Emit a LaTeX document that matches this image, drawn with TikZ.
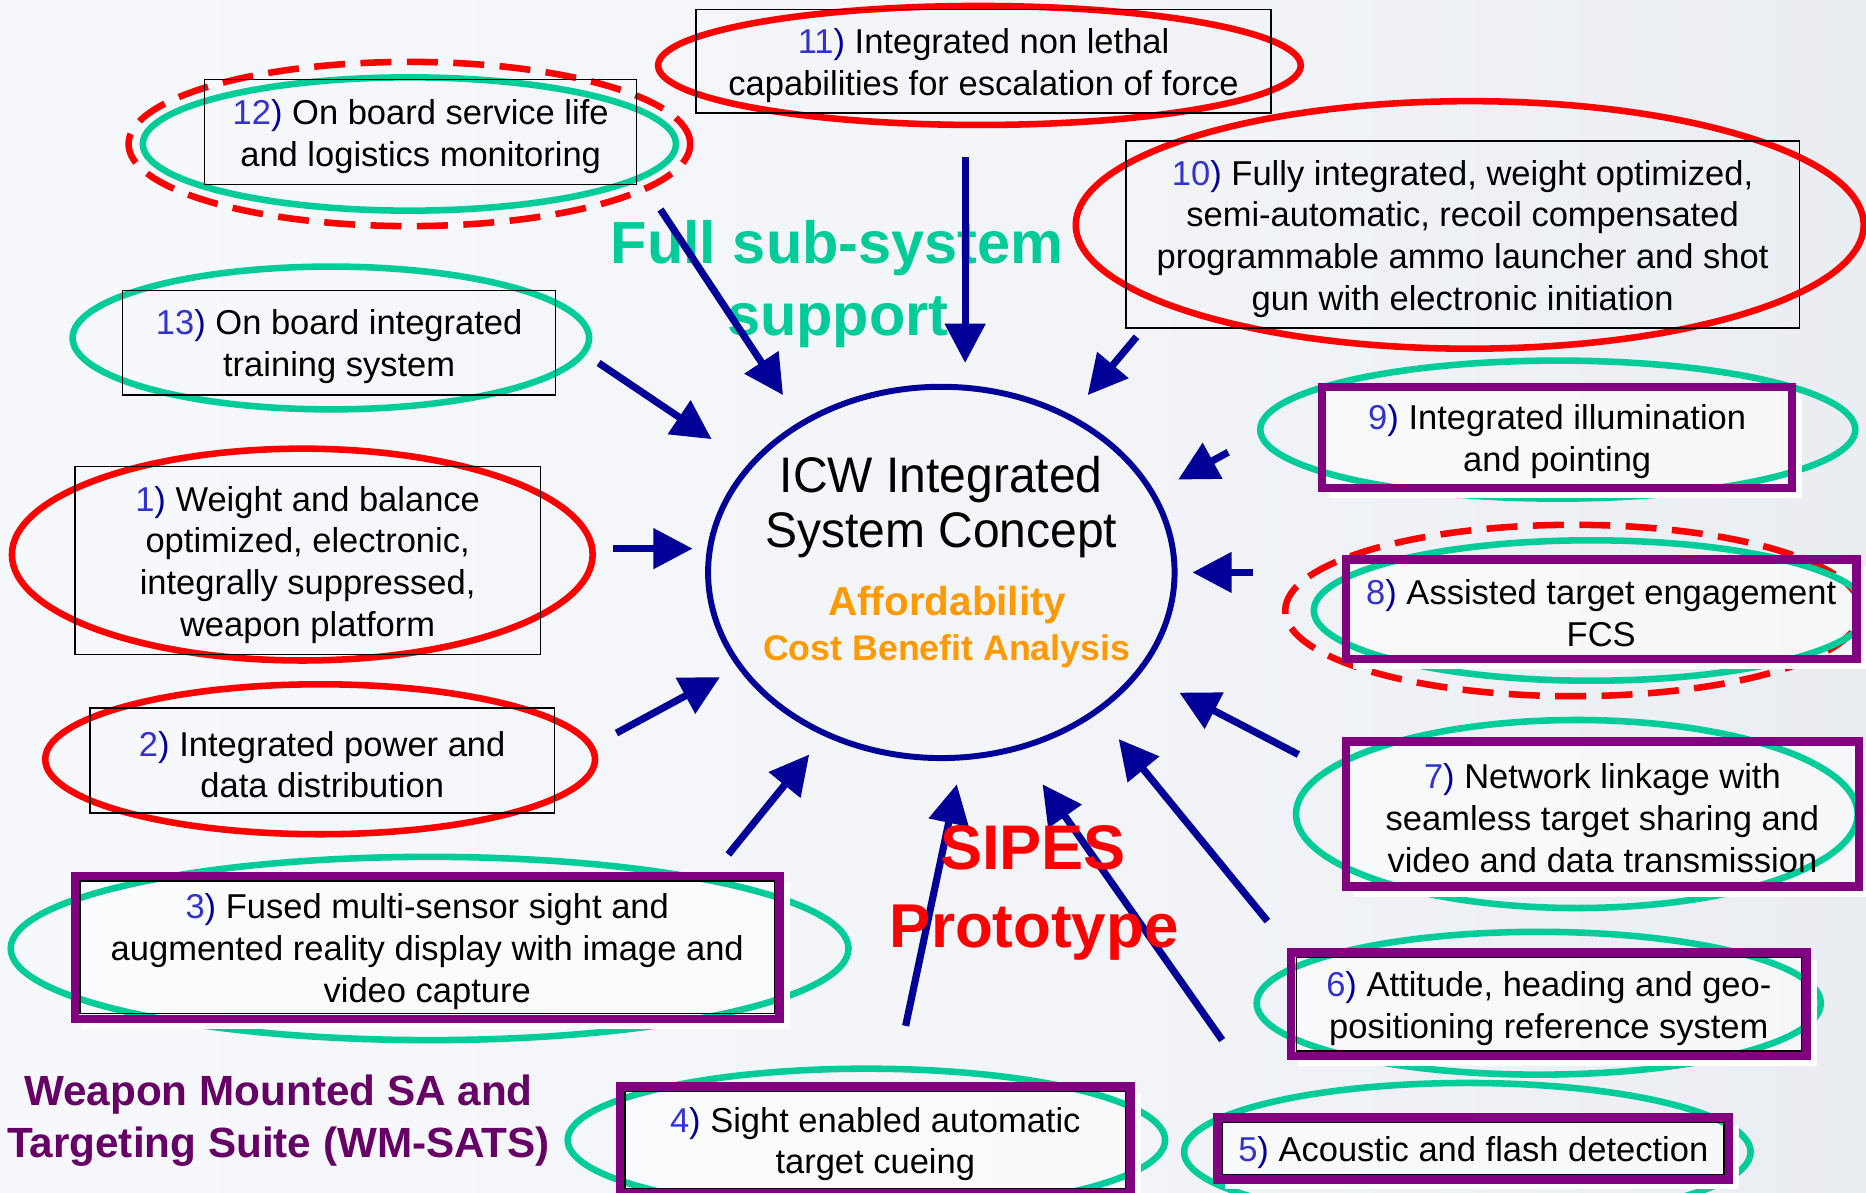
\documentclass[tikz,border=0pt]{standalone}
\usepackage{fontspec}
\setmainfont{Liberation Sans}
\newfontfamily\titlefont[FakeStretch=0.96]{Liberation Sans}
\usetikzlibrary{arrows.meta,shapes.geometric}
\definecolor{navyc}{RGB}{0,0,153}
\definecolor{numblue}{RGB}{51,51,204}
\definecolor{redc}{RGB}{255,0,0}
\definecolor{greenc}{RGB}{0,204,153}
\definecolor{purplec}{RGB}{128,0,128}
\definecolor{purpletext}{RGB}{102,0,102}
\definecolor{orangec}{RGB}{255,153,0}
\definecolor{bgA}{RGB}{251,252,254}
\definecolor{bgB}{RGB}{242,244,248}
\definecolor{bgC}{RGB}{230,233,239}
\definecolor{bgD}{RGB}{205,210,220}
\pgfdeclarehorizontalshading{bgshade}{100bp}{color(0bp)=(bgA); color(55bp)=(bgB); color(85bp)=(bgC); color(100bp)=(bgD)}
\pgfdeclarelayer{back}
\pgfsetlayers{back,main}
\newcommand{\boxfont}{\fontsize{29}{35}\selectfont}
\newcommand{\itemno}[1]{\rule{0pt}{28pt}\textcolor{numblue}{#1}\textcolor{navyc}{)}}
\begin{document}
\begin{tikzpicture}[x=1pt,y=-1pt,
  rbox/.style={draw=black, line width=1.2pt, inner sep=0pt, outer sep=0pt, align=center, font=\boxfont, text=black},
  pbox/.style={draw=purplec, line width=7pt, inner sep=0pt, outer sep=0pt, align=center, font=\boxfont, text=black},
  ring/.style={ellipse, inner sep=0pt, outer sep=0pt, line width=5.5pt},
  greenring/.style={ring, draw=greenc},
  redring/.style={ring, draw=redc},
  reddash/.style={ring, draw=redc, dash pattern=on 26pt off 13pt},
  navyring/.style={ring, draw=navyc, line width=5pt},
  arr/.style={draw=navyc, line width=6pt, -{Triangle[length=33pt,width=33pt]}},
  shadowline/.style={draw=white, line width=5pt},
  innerline/.style={draw=black, line width=1.2pt},
  bigtext/.style={anchor=base, inner sep=0pt}
]
\useasboundingbox (0,0) rectangle (1568,1002);
\clip (0,0) rectangle (1568,1002);

% ellipses
\node[redring, minimum width=540pt, minimum height=100pt] (e11) at (823,55) {};
\node[reddash, minimum width=472pt, minimum height=138pt] (e12r) at (344,121) {};
\node[greenring, minimum width=448pt, minimum height=112pt] (e12) at (344,121) {};
\node[greenring, minimum width=434pt, minimum height=120pt] (e13) at (278,284) {};
\node[redring, minimum width=488pt, minimum height=178pt] (e1) at (254,466) {};
\node[redring, minimum width=462pt, minimum height=126pt] (e2) at (269,638) {};
\node[greenring, minimum width=704pt, minimum height=154pt] (e3) at (361,797) {};
\node[greenring, minimum width=502pt, minimum height=120pt] (e4) at (728,958) {};
\node[greenring, minimum width=476pt, minimum height=116pt] (e5) at (1233,968) {};
\node[greenring, minimum width=474pt, minimum height=120pt] (e6) at (1293,843) {};
\node[greenring, minimum width=472pt, minimum height=158pt] (e7) at (1325,684) {};
\node[reddash, minimum width=484pt, minimum height=144pt] (e8r) at (1322,513) {};
\node[greenring, minimum width=466pt, minimum height=118pt] (e8) at (1337,513) {};
\node[greenring, minimum width=500pt, minimum height=116pt] (e9) at (1309,361) {};
\node[redring, minimum width=662pt, minimum height=208pt] (e10) at (1235,189) {};
\node[navyring, minimum width=392pt, minimum height=312pt] (core) at (791,481) {};

% black boxes
\node[rbox, minimum width=483pt, minimum height=87pt] (b11) at (826.5,51.5) {\itemno{11} Integrated non lethal\\capabilities for escalation of force};
\node[rbox, minimum width=363pt, minimum height=88pt] (b12) at (353.5,111) {\itemno{12} On board service life\\and logistics monitoring};
\node[rbox, minimum width=364pt, minimum height=88pt] (b13) at (285,288) {\itemno{13} On board integrated\\training system};
\node[rbox, minimum width=391pt, minimum height=158pt] (b1) at (258.5,471) {\itemno{1} Weight and balance\\optimized, electronic,\\integrally suppressed,\\weapon platform};
\node[rbox, minimum width=390pt, minimum height=88pt] (b2) at (270.75,639) {\itemno{2} Integrated power and\\data distribution};
\node[rbox, minimum width=566pt, minimum height=157pt] (b10) at (1229,197) {\itemno{10} Fully integrated, weight optimized,\\semi-automatic, recoil compensated\\programmable ammo launcher and shot\\gun with electronic initiation};

% purple boxes
\node[pbox, minimum width=592pt, minimum height=120pt] (b3) at (359,796) {\itemno{3} Fused multi-sensor sight and\\augmented reality display with image and\\video capture};
\node[pbox, minimum width=429pt, minimum height=90pt] (b4) at (735.5,958) {\itemno{4} Sight enabled automatic\\target cueing};
\node[pbox, minimum width=430pt, minimum height=52pt] (b5) at (1238,965) {\itemno{5} Acoustic and flash detection};
\node[pbox, minimum width=433pt, minimum height=87pt] (b6) at (1301.5,844) {\itemno{6} Attitude, heading and geo-\\positioning reference system};
\node[pbox, minimum width=431pt, minimum height=122pt] (b7) at (1346.5,684) {\itemno{7} Network linkage with\\seamless target sharing and\\video and data transmission};
\node[pbox, minimum width=429pt, minimum height=84pt] (b8) at (1345.5,512) {\itemno{8} Assisted target engagement\\FCS};
\node[pbox, minimum width=395pt, minimum height=85pt] (b9) at (1308.5,367.5) {\itemno{9} Integrated illumination\\and pointing};

% white shadows and inner lines of the purple boxes
\foreach \b in {b3,b4,b5,b6,b7,b8,b9}{
  \draw[shadowline] ([shift={(6,6)}]\b.north east) |- ([shift={(6,6)}]\b.south west);
}
\foreach \b in {b3,b4,b5,b6}{
  \draw[innerline] ([shift={(4.2,4.2)}]\b.north west) rectangle ([shift={(-4.2,-4.2)}]\b.south east);
}

% green title
\node[bigtext, font=\fontsize{50}{58}\selectfont\bfseries, text=greenc] (full) at (703.5,221) {Full sub-system};
\node[bigtext, font=\fontsize{50}{58}\selectfont\bfseries, text=greenc] (supp) at (704,282) {support};

% arrows
\coordinate (s12) at (555,176);  \coordinate (t12) at (658,332);
\coordinate (s11) at (811,132);  \coordinate (t11) at (811,305);
\coordinate (s10) at (955,283);  \coordinate (t10) at (914,332);
\coordinate (s13) at (503,305);  \coordinate (t13) at (598,369);
\coordinate (s9) at (1032,380);  \coordinate (t9) at (990,403);
\coordinate (s1) at (515,461);   \coordinate (t1) at (582,461);
\coordinate (s8) at (1053,481);  \coordinate (t8) at (1002,481);
\coordinate (s2) at (518,616);   \coordinate (t2) at (605,569);
\coordinate (s7) at (1091,634);  \coordinate (t7) at (991,582);
\coordinate (s3) at (612,718);   \coordinate (t3) at (680,634);
\coordinate (s6) at (1065,774);  \coordinate (t6) at (940,621);
\coordinate (s4) at (761,862);   \coordinate (t4) at (804,659);
\coordinate (s5) at (1027,874);  \coordinate (t5) at (876,659);
\foreach \i in {12,11,10,13,9,1,8,2,7,3,6,4,5}{
  \draw[arr] (s\i) -- (t\i);
}

% centre text
\node[bigtext, font=\titlefont\fontsize{42}{48}\selectfont, text=black] (icw1) at (791,414) {ICW Integrated};
\node[bigtext, font=\titlefont\fontsize{42}{48}\selectfont, text=black] (icw2) at (791,460) {System Concept};
\node[bigtext, font=\fontsize{34}{40}\selectfont\bfseries, text=orangec] (aff) at (796,517) {Affordability};
\node[bigtext, font=\fontsize{30}{36}\selectfont\bfseries, text=orangec] (cba) at (795.5,555) {Cost Benefit Analysis};

% red title
\node[bigtext, font=\fontsize{53}{62}\selectfont\bfseries, text=redc] (sipes) at (868,731) {SIPES};
\node[bigtext, font=\fontsize{52}{62}\selectfont\bfseries, text=redc] (proto) at (869,796) {Prototype};

% purple title
\node[bigtext, font=\fontsize{35.5}{44}\selectfont\bfseries, text=purpletext] (wm1) at (234,929) {Weapon Mounted SA and};
\node[bigtext, font=\fontsize{35.5}{44}\selectfont\bfseries, text=purpletext] (wm2) at (234,973) {Targeting Suite (WM-SATS)};

\begin{pgfonlayer}{back}
\shade[shading=bgshade] (0,0) rectangle (1568,1002);
\foreach \b in {b3,b4,b5,b6,b7,b8,b9}{
  \fill[white, fill opacity=0.6] (\b.south west) rectangle (\b.north east);
}
\end{pgfonlayer}
\end{tikzpicture}
\end{document}
